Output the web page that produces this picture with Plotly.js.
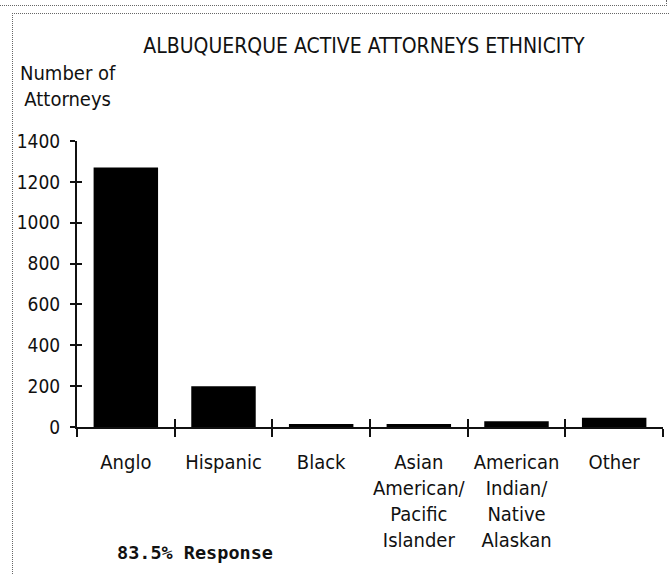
<!DOCTYPE html>
<html>
<head>
<meta charset="utf-8">
<script src="https://cdn.plot.ly/plotly-3.0.1.min.js"></script>
<style>
html, body { margin: 0; padding: 0; background: #fff; }
#page { position: relative; width: 669px; height: 574px; overflow: hidden; }
/* scanned page frame lines */
#topline { position: absolute; left: 0; top: 0; width: 666px; height: 5px; border-bottom: 1px dotted #666; border-right: 1px dotted #666; }
#frame { position: absolute; left: 12px; top: 13px; width: 700px; height: 620px; border-left: 1px dotted #666; border-top: 1px dotted #666; }
#chartDiv { position: absolute; left: 0; top: 0; width: 669px; height: 574px; }
</style>
</head>
<body>
<div id="page">
  <div id="topline"></div>
  <div id="frame"></div>
  <div id="chartDiv"></div>
</div>
<script>
// chart values
var categories = ['Anglo', 'Hispanic', 'Black',
    'Asian<br>American/<br>Pacific<br>Islander',
    'American<br>Indian/<br>Native<br>Alaskan',
    'Other'];
var attorneys = [1270, 200, 15, 15, 28, 45];
var yTicks = [0, 200, 400, 600, 800, 1000, 1200, 1400];

var narrow = 'DejaVu Sans Condensed, Liberation Sans Narrow, sans-serif';

// tick positions on the category boundaries for the overlay axis
var bounds = [];
for (var i = 0; i <= categories.length; i++) {
    bounds.push(i - 0.5);
}

var data = [{
    type: 'bar',
    x: categories,
    y: attorneys,
    width: 0.66,
    marker: {color: '#000', line: {width: 0}},
    hoverinfo: 'x+y'
}, {
    // empty trace so the overlay axes (inner half of the ticks) get drawn
    type: 'scatter',
    mode: 'markers',
    x: [],
    y: [],
    xaxis: 'x2',
    yaxis: 'y2',
    hoverinfo: 'skip'
}];

var layout = {
    width: 669,
    height: 574,
    margin: {l: 77, r: 6, t: 141, b: 147},
    paper_bgcolor: 'rgba(0,0,0,0)',
    plot_bgcolor: 'rgba(0,0,0,0)',
    showlegend: false,
    font: {family: narrow, color: '#111', size: 18},
    title: {
        text: 'ALBUQUERQUE ACTIVE ATTORNEYS ETHNICITY',
        font: {family: narrow, size: 21, color: '#111'},
        xref: 'container', yref: 'container',
        x: 0.544, xanchor: 'center',
        y: 0.92, yanchor: 'middle'
    },
    xaxis: {
        type: 'category',
        range: [-0.5, categories.length - 0.5],
        tickson: 'boundaries',
        tickangle: 0,
        ticks: 'outside', ticklen: 8, tickwidth: 2, tickcolor: '#111',
        showline: true, linecolor: '#111', linewidth: 2,
        showgrid: false, zeroline: false,
        ticklabelstandoff: 16,
        tickfont: {family: narrow, size: 20, color: '#111'}
    },
    xaxis2: { // inner half of the crossing ticks
        overlaying: 'x', anchor: 'y2', type: 'linear',
        range: [-0.5, categories.length - 0.5],
        tickvals: bounds,
        ticks: 'inside', ticklen: 8, tickwidth: 2, tickcolor: '#111',
        showticklabels: false, showline: false, showgrid: false, zeroline: false
    },
    yaxis: {
        range: [0, 1400],
        tickvals: yTicks,
        ticks: 'outside', ticklen: 5, tickwidth: 2, tickcolor: '#111',
        showline: true, linecolor: '#111', linewidth: 2,
        showgrid: false, zeroline: false,
        ticklabelstandoff: 6,
        tickfont: {family: narrow, size: 19, color: '#111'}
    },
    yaxis2: {
        overlaying: 'y', anchor: 'x2', side: 'left',
        range: [0, 1400],
        tickvals: yTicks,
        ticks: 'inside', ticklen: 5, tickwidth: 2, tickcolor: '#111',
        showticklabels: false, showline: false, showgrid: false, zeroline: false
    },
    annotations: [{
        text: 'Number of<br>Attorneys',
        xref: 'paper', yref: 'paper',
        x: -0.0154, y: 1.192,
        xanchor: 'center', yanchor: 'middle', align: 'center',
        showarrow: false,
        font: {family: narrow, size: 20, color: '#111'}
    }, {
        text: '<b>83.5% Response</b>',
        xref: 'paper', yref: 'paper',
        x: 0.2014, y: -0.44,
        xanchor: 'center', yanchor: 'middle',
        showarrow: false,
        font: {family: 'DejaVu Sans Mono, Liberation Mono, monospace', size: 18.5, color: '#111'}
    }]
};

Plotly.newPlot('chartDiv', data, layout, {displayModeBar: false, staticPlot: true});
</script>
</body>
</html>
